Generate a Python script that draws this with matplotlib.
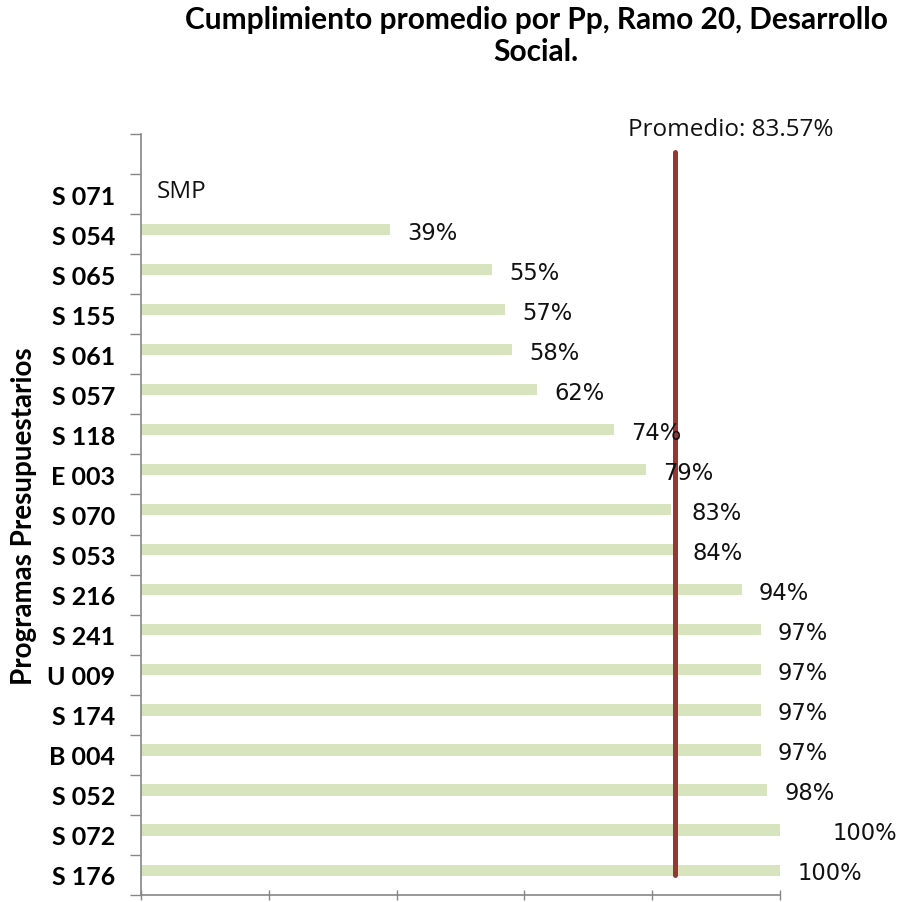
#! /usr/bin/env python
import matplotlib
matplotlib.use('Agg')
import matplotlib.pyplot as plt

# data, top to bottom
programas = ['', 'S 071', 'S 054', 'S 065', 'S 155', 'S 061', 'S 057', 'S 118', 'E 003',
             'S 070', 'S 053', 'S 216', 'S 241', 'U 009', 'S 174', 'B 004', 'S 052',
             'S 072', 'S 176']
cumplimiento = [None, None, 39, 55, 57, 58, 62, 74, 79, 83, 84, 94, 97, 97, 97, 97, 98, 100, 100]
etiquetas = ['', 'SMP', '39%', '55%', '57%', '58%', '62%', '74%', '79%', '83%', '84%', '94%',
             '97%', '97%', '97%', '97%', '98%', '100%', '100%']
promedio = 83.57

# label shift (x units) per row, mostly constant, S 072 label sits further right
shift = [0, 0, 2.7, 2.7, 2.7, 2.7, 2.7, 2.7, 2.7, 3.1, 2.3, 2.7, 2.7, 2.7, 2.7, 2.7, 2.7, 8.2, 2.7]

fig = plt.figure(figsize=(9.07, 9.03), dpi=100)
ax = fig.add_axes([0.1555, 0.0078, 0.7045, 0.8427])

gray = '#868686'
bar_col = '#D7E4BD'

for i, v in enumerate(cumplimiento):
    if v is None:
        continue
    ax.barh(i - 0.12, v, height=0.28, color=bar_col, edgecolor='none', zorder=2)

for i, (v, t) in enumerate(zip(cumplimiento, etiquetas)):
    if t == '':
        continue
    if v is None:
        ax.text(2.5, i - 0.08, t, ha='left', va='center', fontsize=17.5,
                family='Open Sans', color='#111111')
    else:
        ax.text(v + shift[i], i - 0.05, t, ha='left', va='center', fontsize=16.3,
                family='DejaVu Sans', color='#111111', zorder=4)

ax.plot([promedio, promedio], [-0.05, 18.0], color='#953735', lw=3.6,
        solid_capstyle='round', zorder=3)
ax.text(promedio + 8.7, -0.62, 'Promedio: %.2f%%' % promedio, ha='center', va='center',
        fontsize=17.5, family='Open Sans', color='#111111', clip_on=False)

ax.set_xlim(0, 100)
ax.set_ylim(18.5, -0.5)
ax.set_xticks([0, 20, 40, 60, 80, 100])
ax.set_xticklabels([])
ax.set_yticks([y + 0.5 for y in range(-1, 19)], minor=False)
ax.set_yticklabels([])
ax.set_yticks(range(19), minor=True)
ax.set_yticklabels(programas, minor=True, family='Lato', fontweight='bold', fontsize=18)
ax.tick_params(axis='y', which='minor', length=0, pad=18.5)
ax.tick_params(axis='y', which='major', length=8, width=1, color=gray, direction='out')
ax.tick_params(axis='x', length=7, width=1, color=gray, direction='inout')

for s in ['top', 'right']:
    ax.spines[s].set_visible(False)
for s in ['left', 'bottom']:
    ax.spines[s].set_color(gray)
    ax.spines[s].set_linewidth(1.2)

ax.set_ylabel('Programas Presupuestarios', family='Lato', fontweight='bold',
              fontsize=20)
ax.yaxis.set_label_coords(-0.163, 0.499)

fig.text(0.591, 0.993, 'Cumplimiento promedio por Pp, Ramo 20, Desarrollo\nSocial.',
         ha='center', va='top', family='Lato', fontweight='bold', fontsize=21.5,
         linespacing=1.15)

plt.savefig('out.png', dpi=100)
